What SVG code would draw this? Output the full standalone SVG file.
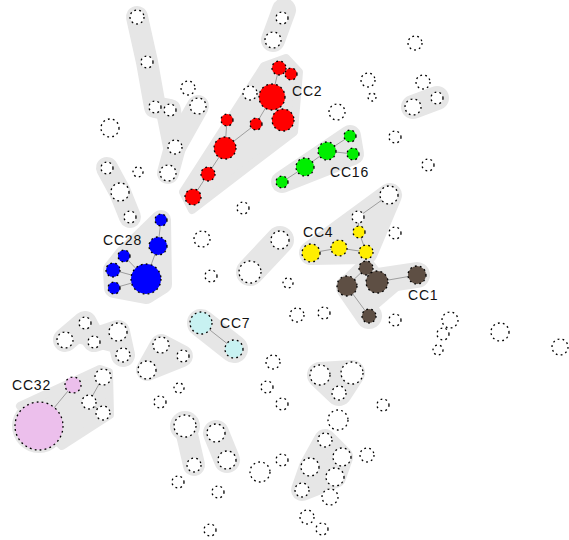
<svg xmlns="http://www.w3.org/2000/svg" width="569" height="540" viewBox="0 0 569 540">
  <style>
    .hull { fill: #e6e6e6; stroke: #e6e6e6; stroke-linejoin: round; stroke-linecap: round; }
    .edge { stroke: #555; stroke-width: 0.5; fill: none; }
    .n { stroke: #000; stroke-width: 1.3; stroke-dasharray: 1.8 3.2; fill: #fff; }
    .red { fill: #ff0000; }
    .green { fill: #00ee00; }
    .yellow { fill: #ffee00; }
    .brown { fill: #5e4f44; }
    .blue { fill: #0000ff; }
    .cyan { fill: #c8f2f2; }
    .pink { fill: #ecbfec; }
    .lbl { font-family: "Liberation Sans", Arial, sans-serif; font-size: 14px; letter-spacing: 0.8px; fill: #111; }
  </style>
  <rect width="569" height="540" fill="#fff"/>

  <!-- component hulls -->
  <g id="hulls">
    <polyline class="hull" stroke-width="22" fill="none" points="137,17 147,62 155,107 170,110 175,147 168,173"/>
    <polyline class="hull" stroke-width="22" fill="none" points="175,147 198,106"/>
    <polyline class="hull" stroke-width="22" fill="none" points="107,168 120,192 130,217"/>
    <polyline class="hull" stroke-width="24" fill="none" points="284,10 273,40"/>
    <polygon class="hull" stroke-width="8" points="183,192 192,210 294,132 299,72 286,58 264,66"/>
    <polygon class="hull" stroke-width="22" points="282,182 350,136 353,154"/>
    <polyline class="hull" stroke-width="24" fill="none" points="413,107 437,98"/>
    <polygon class="hull" stroke-width="24" points="390,195 366,252 311,253"/>
    <polyline class="hull" stroke-width="26" fill="none" points="369,316 349,287 377,281 417,275"/>
    <polygon class="hull" stroke-width="20" points="347,286 366,268 377,282"/>
    <polyline class="hull" stroke-width="28" fill="none" points="280,240 250,272"/>
    <polygon class="hull" stroke-width="20" points="161,220 162,284 146,294 114,288 113,270 124,256"/>
    <polyline class="hull" stroke-width="28" fill="none" points="201,323 234,349"/>
    <polyline class="hull" stroke-width="24" fill="none" points="65,340 85,323 94,340 118,332 123,355"/>
    <polygon class="hull" stroke-width="22" points="161,345 182,356 147,370"/>
    <circle class="hull" cx="39" cy="426" r="27" stroke-width="0"/>
    <polygon class="hull" stroke-width="8" points="20,406 100,369 109,372 110,415 62,446"/>
    <circle class="hull" cx="185" cy="426" r="15" stroke-width="0"/>
    <polyline class="hull" stroke-width="22" fill="none" points="186,430 194,465"/>
    <polyline class="hull" stroke-width="26" fill="none" points="216,433 227,460"/>
    <polygon class="hull" stroke-width="26" points="320,375 352,373 339,393"/>
    <polygon class="hull" stroke-width="22" points="325,440 342,457 335,477 302,490 310,467"/>
  </g>

  <!-- links between nodes -->
  <g id="connectors">
    <polyline class="edge" points="193,197 208,174 225,148 256,124 272,97 279,68 291,74"/>
    <line class="edge" x1="283" y1="120" x2="272" y2="97"/>
    <line class="edge" x1="227" y1="120" x2="225" y2="148"/>
    <polyline class="edge" points="282,182 305,167 327,151 350,136"/>
    <line class="edge" x1="327" y1="151" x2="353" y2="154"/>
    <polyline class="edge" points="311,253 339,248 366,252 359,232 358,217 389,195"/>
    <polyline class="edge" points="366,252 366,268 347,286 369,316"/>
    <polyline class="edge" points="366,268 377,282 417,275"/>
    <polyline class="edge" points="161,220 158,246 146,279 114,288"/>
    <polyline class="edge" points="124,256 146,279 113,270"/>
    <line class="edge" x1="201" y1="323" x2="234" y2="349"/>
    <polyline class="edge" points="39,426 73,385"/>
    <polyline class="edge" points="103,377 89,402 103,413"/>
  </g>

  <!-- plain nodes -->
  <g id="nodes-plain">
    <circle class="n" cx="137" cy="17" r="7"/>
    <circle class="n" cx="147" cy="62" r="6"/>
    <circle class="n" cx="155" cy="107" r="6"/>
    <circle class="n" cx="170" cy="110" r="6"/>
    <circle class="n" cx="198" cy="106" r="8"/>
    <circle class="n" cx="188" cy="88" r="7"/>
    <circle class="n" cx="175" cy="147" r="7"/>
    <circle class="n" cx="168" cy="173" r="8"/>
    <circle class="n" cx="110" cy="128" r="9"/>
    <circle class="n" cx="138" cy="172" r="5"/>
    <circle class="n" cx="107" cy="168" r="6"/>
    <circle class="n" cx="120" cy="192" r="9"/>
    <circle class="n" cx="130" cy="217" r="6"/>
    <circle class="n" cx="282" cy="18" r="6"/>
    <circle class="n" cx="273" cy="40" r="8"/>
    <circle class="n" cx="250" cy="93" r="7"/>
    <circle class="n" cx="415" cy="43" r="7"/>
    <circle class="n" cx="368" cy="80" r="7"/>
    <circle class="n" cx="372" cy="97" r="4"/>
    <circle class="n" cx="423" cy="82" r="7"/>
    <circle class="n" cx="413" cy="107" r="8"/>
    <circle class="n" cx="437" cy="98" r="6"/>
    <circle class="n" cx="337" cy="112" r="8"/>
    <circle class="n" cx="395" cy="137" r="6"/>
    <circle class="n" cx="428" cy="165" r="6"/>
    <circle class="n" cx="389" cy="195" r="9"/>
    <circle class="n" cx="358" cy="217" r="6"/>
    <circle class="n" cx="243" cy="208" r="6"/>
    <circle class="n" cx="202" cy="239" r="8"/>
    <circle class="n" cx="211" cy="276" r="6"/>
    <circle class="n" cx="280" cy="240" r="9"/>
    <circle class="n" cx="250" cy="272" r="11"/>
    <circle class="n" cx="288" cy="283" r="5"/>
    <circle class="n" cx="297" cy="315" r="7"/>
    <circle class="n" cx="324" cy="313" r="6"/>
    <circle class="n" cx="395" cy="233" r="6"/>
    <circle class="n" cx="395" cy="320" r="6"/>
    <circle class="n" cx="450" cy="320" r="8"/>
    <circle class="n" cx="443" cy="334" r="6"/>
    <circle class="n" cx="438" cy="350" r="5"/>
    <circle class="n" cx="500" cy="332" r="9"/>
    <circle class="n" cx="560" cy="347" r="8"/>
    <circle class="n" cx="65" cy="340" r="8"/>
    <circle class="n" cx="85" cy="323" r="6"/>
    <circle class="n" cx="94" cy="342" r="6"/>
    <circle class="n" cx="118" cy="332" r="9"/>
    <circle class="n" cx="123" cy="355" r="7"/>
    <circle class="n" cx="161" cy="345" r="8"/>
    <circle class="n" cx="183" cy="356" r="6"/>
    <circle class="n" cx="147" cy="370" r="9"/>
    <circle class="n" cx="179" cy="388" r="5"/>
    <circle class="n" cx="160" cy="402" r="6"/>
    <circle class="n" cx="103" cy="377" r="8"/>
    <circle class="n" cx="89" cy="402" r="7"/>
    <circle class="n" cx="103" cy="413" r="7"/>
    <circle class="n" cx="185" cy="426" r="11"/>
    <circle class="n" cx="194" cy="465" r="7"/>
    <circle class="n" cx="216" cy="433" r="9"/>
    <circle class="n" cx="227" cy="460" r="9"/>
    <circle class="n" cx="178" cy="482" r="6"/>
    <circle class="n" cx="218" cy="492" r="6"/>
    <circle class="n" cx="210" cy="530" r="6"/>
    <circle class="n" cx="273" cy="362" r="7"/>
    <circle class="n" cx="267" cy="387" r="6"/>
    <circle class="n" cx="282" cy="404" r="6"/>
    <circle class="n" cx="320" cy="375" r="10"/>
    <circle class="n" cx="352" cy="373" r="11"/>
    <circle class="n" cx="339" cy="393" r="7"/>
    <circle class="n" cx="383" cy="405" r="6"/>
    <circle class="n" cx="338" cy="420" r="10"/>
    <circle class="n" cx="325" cy="440" r="7"/>
    <circle class="n" cx="342" cy="457" r="9"/>
    <circle class="n" cx="310" cy="467" r="9"/>
    <circle class="n" cx="335" cy="477" r="9"/>
    <circle class="n" cx="302" cy="490" r="7"/>
    <circle class="n" cx="367" cy="455" r="7"/>
    <circle class="n" cx="260" cy="472" r="10"/>
    <circle class="n" cx="282" cy="460" r="6"/>
    <circle class="n" cx="330" cy="497" r="8"/>
    <circle class="n" cx="307" cy="517" r="7"/>
    <circle class="n" cx="322" cy="529" r="6"/>
  </g>

  <g id="CC2">
    <circle class="n red" cx="279" cy="68" r="7"/>
    <circle class="n red" cx="291" cy="74" r="6"/>
    <circle class="n red" cx="272" cy="97" r="13"/>
    <circle class="n red" cx="283" cy="120" r="11"/>
    <circle class="n red" cx="256" cy="124" r="6"/>
    <circle class="n red" cx="227" cy="120" r="6"/>
    <circle class="n red" cx="225" cy="148" r="11"/>
    <circle class="n red" cx="208" cy="174" r="7"/>
    <circle class="n red" cx="193" cy="197" r="8"/>
    <text class="lbl" x="292" y="96">CC2</text>
  </g>

  <g id="CC16">
    <circle class="n green" cx="350" cy="136" r="6"/>
    <circle class="n green" cx="327" cy="151" r="9"/>
    <circle class="n green" cx="353" cy="154" r="6"/>
    <circle class="n green" cx="305" cy="167" r="9"/>
    <circle class="n green" cx="282" cy="182" r="6"/>
    <text class="lbl" x="330" y="177">CC16</text>
  </g>

  <g id="CC4">
    <circle class="n yellow" cx="359" cy="232" r="6"/>
    <circle class="n yellow" cx="339" cy="248" r="8"/>
    <circle class="n yellow" cx="366" cy="252" r="7"/>
    <circle class="n yellow" cx="311" cy="253" r="9"/>
    <text class="lbl" x="303" y="237">CC4</text>
  </g>

  <g id="CC1">
    <circle class="n brown" cx="366" cy="268" r="7"/>
    <circle class="n brown" cx="347" cy="286" r="10"/>
    <circle class="n brown" cx="377" cy="282" r="11"/>
    <circle class="n brown" cx="369" cy="316" r="7"/>
    <circle class="n brown" cx="417" cy="275" r="9"/>
    <text class="lbl" x="408" y="300">CC1</text>
  </g>

  <g id="CC28">
    <circle class="n blue" cx="161" cy="220" r="6"/>
    <circle class="n blue" cx="158" cy="246" r="9"/>
    <circle class="n blue" cx="124" cy="256" r="6"/>
    <circle class="n blue" cx="113" cy="270" r="7"/>
    <circle class="n blue" cx="146" cy="279" r="15"/>
    <circle class="n blue" cx="114" cy="288" r="6"/>
    <text class="lbl" x="103" y="245">CC28</text>
  </g>

  <g id="CC7">
    <circle class="n cyan" cx="201" cy="323" r="11"/>
    <circle class="n cyan" cx="234" cy="349" r="9"/>
    <text class="lbl" x="220" y="328">CC7</text>
  </g>

  <g id="CC32">
    <circle class="n pink" cx="73" cy="385" r="8"/>
    <circle class="n pink" cx="39" cy="426" r="24"/>
    <text class="lbl" x="12" y="390">CC32</text>
  </g>
</svg>
